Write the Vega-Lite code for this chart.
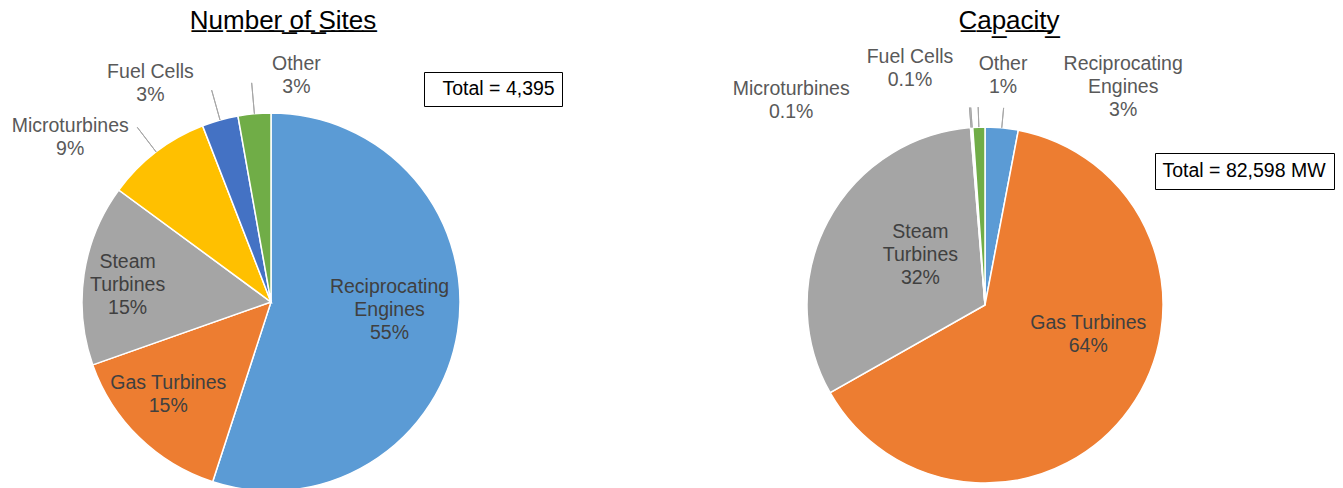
{
  "$schema": "https://vega.github.io/schema/vega-lite/v6.json",
  "bounds": "flush",
  "padding": {"top": 8, "left": 0, "right": 0, "bottom": 0},
  "spacing": 88,
  "background": "white",
  "datasets": {
    "sites": [
      {"idx": 1, "type": "Reciprocating Engines", "value": 2417, "label": "Reciprocating\nEngines\n55%"},
      {"idx": 2, "type": "Gas Turbines", "value": 642, "label": "Gas Turbines\n15%"},
      {"idx": 3, "type": "Steam Turbines", "value": 681, "label": "Steam\nTurbines\n15%"},
      {"idx": 4, "type": "Microturbines", "value": 396, "label": "Microturbines\n9%"},
      {"idx": 5, "type": "Fuel Cells", "value": 136, "label": "Fuel Cells\n3%"},
      {"idx": 6, "type": "Other", "value": 123, "label": "Other\n3%"}
    ],
    "capacity": [
      {"idx": 1, "type": "Reciprocating Engines", "value": 2478, "label": "Reciprocating\nEngines\n3%"},
      {"idx": 2, "type": "Gas Turbines", "value": 52698, "label": "Gas Turbines\n64%"},
      {"idx": 3, "type": "Steam Turbines", "value": 26349, "label": "Steam\nTurbines\n32%"},
      {"idx": 4, "type": "Microturbines", "value": 83, "label": "Microturbines\n0.1%"},
      {"idx": 5, "type": "Fuel Cells", "value": 83, "label": "Fuel Cells\n0.1%"},
      {"idx": 6, "type": "Other", "value": 907, "label": "Other\n1%"}
    ]
  },
  "config": {
    "view": {"stroke": null},
    "font": "Liberation Sans",
    "title": {"fontSize": 26, "fontWeight": "normal", "color": "#000000", "font": "Liberation Sans", "anchor": "middle", "offset": 6},
    "text": {"font": "Liberation Sans", "fontSize": 19.5, "lineHeight": 23, "lineBreak": "\n", "baseline": "middle", "align": "center", "clip": true}
  },
  "resolve": {"scale": {"shape": "independent"}, "legend": {"shape": "independent"}},
  "hconcat": [
    {
      "width": 542,
      "height": 524,
      "title": {"text": "N\u0332u\u0332m\u0332b\u0332e\u0332r\u0332 \u0332o\u0332f\u0332 \u0332S\u0332i\u0332t\u0332e\u0332s\u0332", "dx": 12},
      "layer": [
        {
          "data": {"name": "sites"},
          "encoding": {
            "theta": {"field": "value", "type": "quantitative", "stack": true},
            "order": {"field": "idx", "type": "quantitative"},
            "detail": {"field": "type", "type": "nominal"},
            "color": {"field": "type", "type": "nominal", "legend": null,
              "scale": {"domain": ["Reciprocating Engines", "Gas Turbines", "Steam Turbines", "Microturbines", "Fuel Cells", "Other"],
                        "range": ["#5B9BD5", "#ED7D31", "#A5A5A5", "#FFC000", "#4472C4", "#70AD47"]}}
          },
          "layer": [
            {"mark": {"type": "arc", "radius": 189, "stroke": "white", "strokeWidth": 1.5}},
            {"mark": {"type": "arc", "radius": 220, "radius2": 189, "padAngle": 1, "filled": false, "strokeWidth": 1, "clip": true},
             "encoding": {"color": {"value": "#A6A6A6"},
               "strokeOpacity": {"condition": {"test": "indexof(['Microturbines','Fuel Cells','Other'], datum.type) >= 0", "value": 1}, "value": 0}}},
            {"mark": {"type": "text", "radius": 120, "dy": -34, "clip": true},
             "encoding": {"color": {"value": "#404040"}, "text": {"condition": {"test": "datum.type === 'Reciprocating Engines'", "field": "label"}, "value": ""}}},
            {"mark": {"type": "text", "radius": 140, "dx": -5, "dy": -19.5, "clip": true},
             "encoding": {"color": {"value": "#404040"}, "text": {"condition": {"test": "datum.type === 'Gas Turbines'", "field": "label"}, "value": ""}}},
            {"mark": {"type": "text", "radius": 145, "dy": -19, "clip": true},
             "encoding": {"color": {"value": "#404040"}, "text": {"condition": {"test": "datum.type === 'Steam Turbines'", "field": "label"}, "value": ""}}},
            {"mark": {"type": "text", "radius": 253, "dx": -47, "dy": 24.5, "clip": true},
             "encoding": {"color": {"value": "#595959"}, "text": {"condition": {"test": "datum.type === 'Microturbines'", "field": "label"}, "value": ""}}},
            {"mark": {"type": "text", "radius": 243, "dx": -55, "dy": 3.5, "clip": true},
             "encoding": {"color": {"value": "#595959"}, "text": {"condition": {"test": "datum.type === 'Fuel Cells'", "field": "label"}, "value": ""}}},
            {"mark": {"type": "text", "radius": 223, "dx": 45, "dy": -15.5, "clip": true},
             "encoding": {"color": {"value": "#595959"}, "text": {"condition": {"test": "datum.type === 'Other'", "field": "label"}, "value": ""}}}
          ]
        },
        {
          "data": {"values": [{"note": "Total = 4,395"}]},
          "mark": {"type": "point", "opacity": 0},
          "encoding": {
            "shape": {"field": "note", "type": "nominal",
              "legend": {"title": null, "orient": "none", "legendX": 424, "legendY": 32, "strokeColor": "#000000", "fillColor": "white", "padding": 7,
                "labelFontSize": 19.5, "labelColor": "#000000", "labelFont": "Liberation Sans", "symbolSize": 0, "symbolOpacity": 0, "symbolStrokeWidth": 0, "labelOffset": -8, "labelLimit": 400}}
          }
        }
      ]
    },
    {
      "width": 710,
      "height": 530,
      "title": {"text": "C\u0332a\u0332p\u0332a\u0332c\u0332i\u0332t\u0332y\u0332", "dx": 24},
      "layer": [
        {
          "data": {"name": "capacity"},
          "encoding": {
            "theta": {"field": "value", "type": "quantitative", "stack": true},
            "order": {"field": "idx", "type": "quantitative"},
            "detail": {"field": "type", "type": "nominal"},
            "color": {"field": "type", "type": "nominal", "legend": null,
              "scale": {"domain": ["Reciprocating Engines", "Gas Turbines", "Steam Turbines", "Microturbines", "Fuel Cells", "Other"],
                        "range": ["#5B9BD5", "#ED7D31", "#A5A5A5", "#FFC000", "#4472C4", "#70AD47"]}}
          },
          "layer": [
            {"mark": {"type": "arc", "radius": 178, "stroke": "white", "strokeWidth": 1.5}},
            {"mark": {"type": "arc", "radius": 198, "radius2": 178, "padAngle": 1, "filled": false, "strokeWidth": 1, "clip": true},
             "encoding": {"color": {"value": "#A6A6A6"},
               "strokeOpacity": {"condition": {"test": "indexof(['Reciprocating Engines','Microturbines','Fuel Cells','Other'], datum.type) >= 0", "value": 1}, "value": 0}}},
            {"mark": {"type": "text", "radius": 100, "dx": 22, "dy": -40.5, "clip": true},
             "encoding": {"color": {"value": "#404040"}, "text": {"condition": {"test": "datum.type === 'Gas Turbines'", "field": "label"}, "value": ""}}},
            {"mark": {"type": "text", "radius": 81, "dx": 7, "dy": -35, "clip": true},
             "encoding": {"color": {"value": "#404040"}, "text": {"condition": {"test": "datum.type === 'Steam Turbines'", "field": "label"}, "value": ""}}},
            {"mark": {"type": "text", "radius": 215, "dx": -177, "dy": -1.5, "clip": true},
             "encoding": {"color": {"value": "#595959"}, "text": {"condition": {"test": "datum.type === 'Microturbines'", "field": "label"}, "value": ""}}},
            {"mark": {"type": "text", "radius": 236, "dx": -58, "dy": -12.5, "clip": true},
             "encoding": {"color": {"value": "#595959"}, "text": {"condition": {"test": "datum.type === 'Fuel Cells'", "field": "label"}, "value": ""}}},
            {"mark": {"type": "text", "radius": 230, "dx": 26, "dy": -11.5, "clip": true},
             "encoding": {"color": {"value": "#595959"}, "text": {"condition": {"test": "datum.type === 'Other'", "field": "label"}, "value": ""}}},
            {"mark": {"type": "text", "radius": 225, "dx": 117, "dy": -17, "clip": true},
             "encoding": {"color": {"value": "#595959"}, "text": {"condition": {"test": "datum.type === 'Reciprocating Engines'", "field": "label"}, "value": ""}}}
          ]
        },
        {
          "data": {"values": [{"note": "Total = 82,598 MW"}]},
          "mark": {"type": "point", "opacity": 0},
          "encoding": {
            "shape": {"field": "note", "type": "nominal",
              "legend": {"title": null, "orient": "none", "legendX": 525, "legendY": 113, "strokeColor": "#000000", "fillColor": "white", "padding": 8,
                "labelFontSize": 19.5, "labelColor": "#000000", "labelFont": "Liberation Sans", "symbolSize": 0, "symbolOpacity": 0, "symbolStrokeWidth": 0, "labelOffset": -20, "labelLimit": 400}}
          }
        }
      ]
    }
  ]
}
